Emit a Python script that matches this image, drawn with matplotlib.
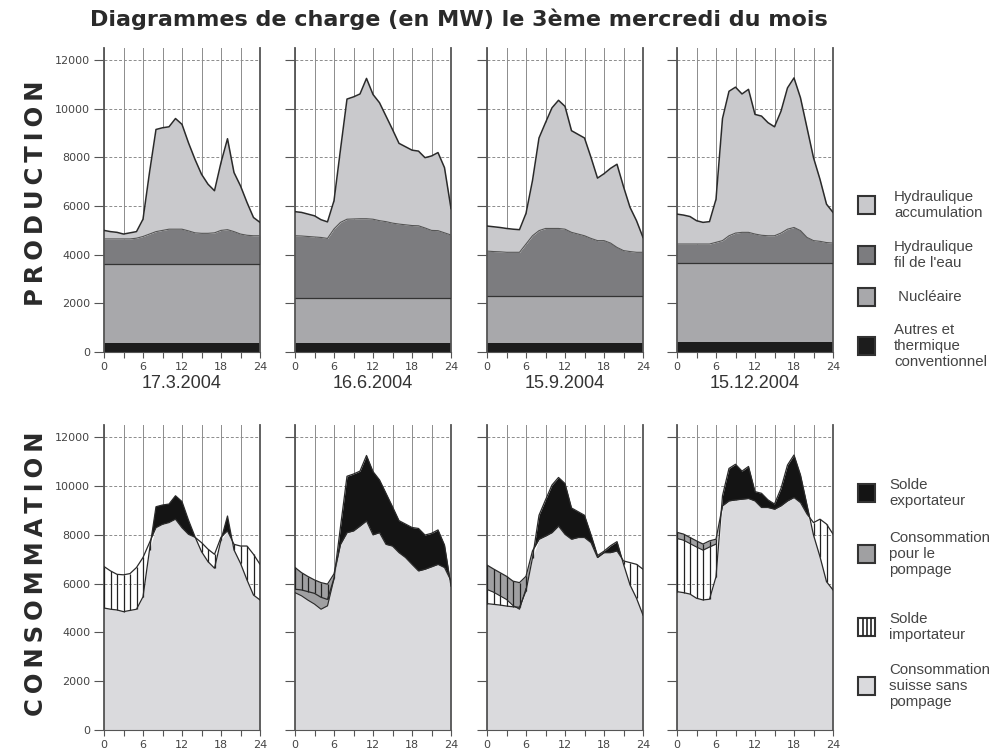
import matplotlib.pyplot as plt
from matplotlib.patches import Rectangle
import numpy as np

plt.rcParams['font.family'] = ['Liberation Sans', 'DejaVu Sans']

heures = list(range(25))
dates = ["17.3.2004", "16.6.2004", "15.9.2004", "15.12.2004"]

# production totale (haut de l'accumulation), MW
prod_mar = [5000, 4950, 4920, 4850, 4900, 4950, 5460, 7380, 9150, 9220, 9260, 9600, 9360,
            8600, 7920, 7310, 6900, 6630, 7790, 8770, 7380, 6830, 6150, 5530, 5330]
prod_jun = [5770, 5740, 5670, 5600, 5440, 5350, 6220, 8330, 10400, 10490, 10610, 11250, 10590,
            10250, 9700, 9150, 8580, 8440, 8300, 8260, 7990, 8060, 8200, 7580, 5900]
prod_sep = [5180, 5150, 5120, 5080, 5050, 5030, 5700, 7050, 8800, 9430, 10040, 10350, 10100,
            9100, 8950, 8800, 8000, 7150, 7330, 7550, 7720, 6800, 5950, 5400, 4710]
prod_dec = [5670, 5630, 5570, 5400, 5330, 5360, 6280, 9600, 10720, 10890, 10610, 10800, 9770,
            9700, 9430, 9260, 9900, 10860, 11270, 10450, 9220, 7990, 7100, 6080, 5740]

# haut du fil de l'eau
fil_mar = [4650, 4650, 4650, 4650, 4650, 4680, 4750, 4850, 4950, 5000, 5050, 5050, 5050,
           4980, 4900, 4880, 4880, 4900, 5000, 5030, 4950, 4850, 4800, 4780, 4780]
fil_jun = [4780, 4770, 4750, 4730, 4710, 4670, 5060, 5330, 5460, 5470, 5480, 5480, 5460,
           5400, 5360, 5300, 5260, 5230, 5200, 5190, 5100, 5000, 4990, 4900, 4810]
fil_sep = [4150, 4130, 4120, 4100, 4100, 4100, 4440, 4780, 4990, 5080, 5080, 5080, 5050,
           4920, 4850, 4780, 4670, 4580, 4580, 4480, 4300, 4170, 4130, 4100, 4100]
fil_dec = [4440, 4440, 4440, 4440, 4440, 4440, 4510, 4580, 4780, 4890, 4920, 4920, 4850,
           4800, 4780, 4780, 4890, 5050, 5120, 4990, 4710, 4580, 4550, 4500, 4480]

# haut du nucleaire et des autres (constants sur la journee)
nucleaire = [3600, 2200, 2300, 3650]
autres = [380, 380, 350, 430]

# consommation suisse + pompage
dem_mar = [6700, 6520, 6380, 6360, 6410, 6660, 7070, 7680, 8290, 8430, 8500, 8640, 8290,
           8020, 7900, 7680, 7410, 7200, 7900, 8160, 7610, 7540, 7540, 7200, 6790]
dem_jun = [6660, 6450, 6290, 6150, 6040, 5980, 6400, 7610, 8090, 8160, 8360, 8570, 8000,
           8090, 7610, 7540, 7270, 7070, 6790, 6520, 6590, 6690, 6790, 6660, 6110]
dem_sep = [6760, 6600, 6450, 6300, 6100, 6040, 6300, 7340, 7820, 7950, 8090, 8360, 8020,
           7820, 7890, 7890, 7680, 7070, 7270, 7270, 7340, 6930, 6860, 6790, 6590]
dem_dec = [8100, 8030, 7890, 7750, 7620, 7750, 7820, 9190, 9390, 9430, 9460, 9490, 9390,
           9120, 9120, 9050, 9190, 9390, 9530, 9320, 8850, 8500, 8640, 8440, 8030]

# consommation pour le pompage
pomp_mar = [0, 0, 0, 0, 0, 0, 0, 0, 0, 0, 0, 0, 0, 0, 0, 0, 0, 0, 0, 0, 0, 0, 0, 0, 0]
pomp_jun = [1030, 950, 970, 990, 1090, 890, 200, 0, 0, 0, 0, 0, 0,
            0, 0, 0, 0, 0, 0, 0, 0, 0, 0, 0, 0]
pomp_sep = [1000, 950, 950, 950, 1000, 1090, 500, 0, 0, 0, 0, 0, 0,
            0, 0, 0, 0, 0, 0, 0, 0, 0, 0, 0, 0]
pomp_dec = [250, 250, 250, 250, 250, 250, 200, 0, 0, 0, 0, 0, 0,
            0, 0, 0, 0, 0, 0, 0, 0, 0, 0, 0, 0]

production = [prod_mar, prod_jun, prod_sep, prod_dec]
fil = [fil_mar, fil_jun, fil_sep, fil_dec]
demande = [dem_mar, dem_jun, dem_sep, dem_dec]
pompage = [pomp_mar, pomp_jun, pomp_sep, pomp_dec]

c_accu = '#c9c9cc'
c_fil = '#7c7c7f'
c_nuc = '#a8a8ab'
c_autres = '#1c1c1c'
c_conso = '#dadadd'
c_pomp = '#a0a0a2'
c_export = '#141414'
c_line = '#2a2a2a'

W, H = 997, 749
fig = plt.figure(figsize=(W / 100, H / 100), dpi=100)

lefts = [104, 295, 487, 677]
width = 156


def rect(left, bottom, top):
    return [left / W, 1 - bottom / H, width / W, (bottom - top) / H]


def style(ax, first):
    ax.set_xlim(0, 24)
    ax.set_ylim(0, 12500)
    ax.set_axisbelow(True)
    ax.set_xticks([0, 6, 12, 18, 24])
    ax.set_xticks([3, 9, 15, 21], minor=True)
    ax.set_yticks(range(0, 12001, 2000))
    ax.grid(axis='x', which='both', color='#8c8c8c', lw=0.7)
    ax.grid(axis='y', which='major', color='#8c8c8c', lw=0.7, linestyle=(0, (3, 2)))
    ax.tick_params(axis='x', which='both', length=4, width=0.8, color='#555',
                   labelsize=8, labelcolor='#444', pad=3)
    ax.tick_params(axis='y', length=7, width=0.8, color='#555',
                   labelsize=8, labelcolor='#444', pad=3)
    for lab in ax.get_xticklabels():
        lab.set_family('DejaVu Sans')
    if first:
        ax.set_yticklabels([str(v) for v in range(0, 12001, 2000)], family='DejaVu Sans')
    else:
        ax.set_yticklabels([])
    ax.spines['top'].set_visible(False)
    for s in ['left', 'right']:
        ax.spines[s].set_color('#555')
        ax.spines[s].set_linewidth(1.3)
    ax.spines['bottom'].set_color('#555')
    ax.spines['bottom'].set_linewidth(0.8)


h = np.array(heures)

# ligne du haut : production
for i in range(4):
    ax = fig.add_axes(rect(lefts[i], 352, 48))
    p = np.array(production[i])
    f = np.array(fil[i])
    ax.fill_between(h, 0, autres[i], color=c_autres, lw=0, zorder=2)
    ax.fill_between(h, autres[i], nucleaire[i], color=c_nuc, lw=0, zorder=2)
    ax.fill_between(h, nucleaire[i], f, color=c_fil, lw=0, zorder=2)
    ax.fill_between(h, f, p, color=c_accu, lw=0, zorder=2)
    ax.hlines(nucleaire[i], 0, 24, color='#333', lw=0.9, zorder=3)
    ax.plot(h, f, color='#555', lw=0.8, zorder=3)
    ax.plot(h, p, color=c_line, lw=1.1, zorder=4)
    style(ax, i == 0)

# ligne du bas : consommation
for i in range(4):
    ax = fig.add_axes(rect(lefts[i], 730, 425))
    p = np.array(production[i], dtype=float)
    d = np.array(demande[i], dtype=float)
    pm = np.array(pompage[i], dtype=float)
    c = d - pm
    ax.fill_between(h, 0, np.minimum(p, c), color=c_conso, lw=0, zorder=2)
    ax.fill_between(h, c, d, where=pm > 0, interpolate=True, color=c_pomp, lw=0, zorder=2)
    imp = p < d
    ax.vlines(h[imp], p[imp], d[imp], color='#222', lw=0.9, zorder=3)
    ax.fill_between(h, d, p, where=p > d, interpolate=True, color=c_export, lw=0, zorder=3)
    ax.plot(h, np.where(pm > 0, c, np.nan), color=c_line, lw=0.8, zorder=4)
    ax.plot(h, p, color=c_line, lw=0.9, zorder=4)
    ax.plot(h, d, color=c_line, lw=0.9, zorder=4)
    style(ax, i == 0)

# textes en coordonnees pixel
ov = fig.add_axes([0, 0, 1, 1])
ov.set_xlim(0, W)
ov.set_ylim(H, 0)
ov.axis('off')
ov.patch.set_alpha(0)

ov.text(90, 19, "Diagrammes de charge (en MW) le 3ème mercredi du mois",
        fontsize=16, fontweight='bold', family='DejaVu Sans', color='#2a2a2a',
        ha='left', va='center')

sp = '\u2009'
ov.text(36, 193, sp.join("PRODUCTION"), rotation=90, ha='center', va='center',
        fontsize=17.5, fontweight='bold', family='DejaVu Sans', color='#2a2a2a')
ov.text(36, 574, sp.join("CONSOMMATION"), rotation=90, ha='center', va='center',
        fontsize=17.5, fontweight='bold', family='DejaVu Sans', color='#2a2a2a')

for i in range(4):
    ov.text(lefts[i] + width / 2, 384, dates[i], fontsize=13, color='#333',
            ha='center', va='center')

leg_haut = [
    (205, c_accu, "Hydraulique\naccumulation"),
    (255, c_fil, "Hydraulique\nfil de l'eau"),
    (297, c_nuc, " Nucléaire"),
    (346, c_autres, "Autres et\nthermique\nconventionnel"),
]
for y, col, lab in leg_haut:
    ov.add_patch(Rectangle((858, y - 9), 17, 18, facecolor=col, edgecolor='#333', lw=1.5))
    ov.text(894, y, lab, fontsize=10.8, color='#444', ha='left', va='center', linespacing=1.15)

leg_bas = [(493, c_export, "Solde\nexportateur"),
           (554, c_pomp, "Consommation\npour le\npompage"),
           (627, 'white', "Solde\nimportateur"),
           (686, c_conso, "Consommation\nsuisse sans\npompage")]
for y, col, lab in leg_bas:
    ov.add_patch(Rectangle((858, y - 9), 17, 18, facecolor=col, edgecolor='#333', lw=1.5))
    if col == 'white':
        ov.vlines([862.5, 866.5, 870.5], y - 9, y + 9, color='#222', lw=1.2)
    ov.text(889, y, lab, fontsize=10.8, color='#444', ha='left', va='center', linespacing=1.15)

fig.savefig("out.png", dpi=100)
